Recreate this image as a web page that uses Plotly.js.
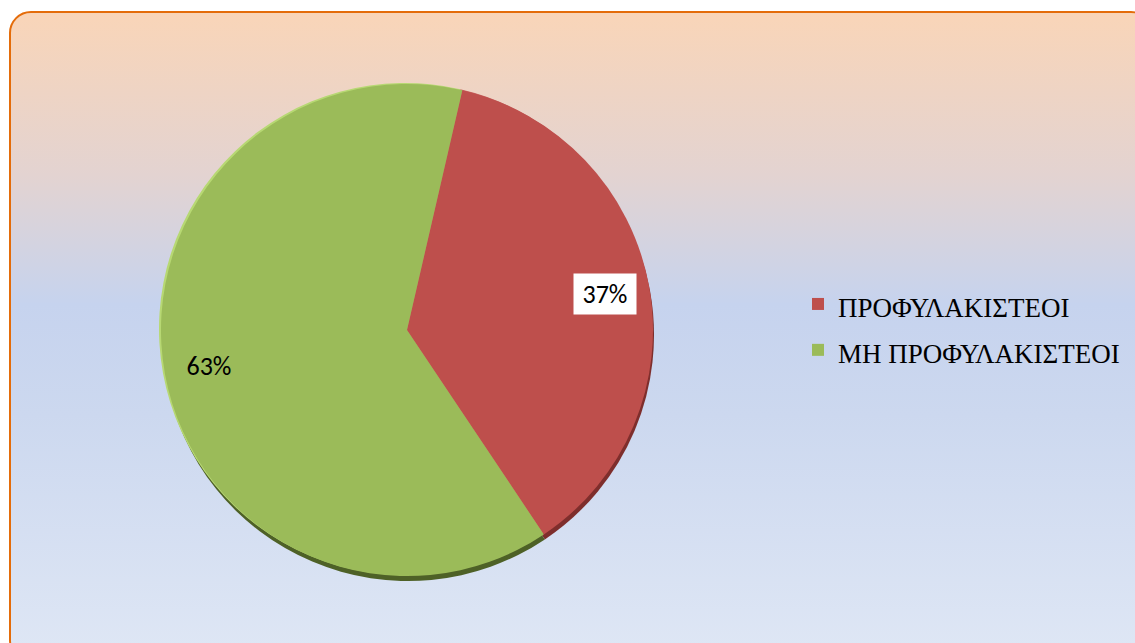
<!DOCTYPE html>
<html>
<head>
<meta charset="utf-8">
<script src="https://cdn.plot.ly/plotly-3.0.1.min.js"></script>
<style>
  html, body { margin: 0; padding: 0; background: #ffffff; overflow: hidden; }
  #frame {
    position: absolute; left: 9px; top: 11px; width: 1140px; height: 648px;
    border: 2.5px solid #E46C0A; border-radius: 22px;
    background: linear-gradient(to bottom, #F9D5B8 0%, #E3D3D1 25%, #C6D3EE 45%, #CCD8EF 62%, #DFE7F5 100%);
  }
  #chart { position: absolute; left: 0; top: 0; width: 1135px; height: 643px; }
</style>
</head>
<body>
<div id="frame"></div>
<div id="chart"></div>
<script>
// ---- data ----
const categories = ["ΠΡΟΦΥΛΑΚΙΣΤΕΟΙ", "ΜΗ ΠΡΟΦΥΛΑΚΙΣΤΕΟΙ"];
const values = [37, 63];
const percentLabels = ["37%", "63%"];

// ---- styling / layout constants ----
const W = 1135, H = 643;
const cx = 407, cy = 330, R = 246;
const rotation = 13;
const sliceColors = ["#BE4F4C", "#9BBB59"];
const shadeColors = ["#7E2E2C", "#4E6127"];
const lightColors = ["#C86562", "#B7D873"];

function domainAt(dx, dy) {
  return {
    x: [(cx - R + dx) / W, (cx + R + dx) / W],
    y: [(H - cy - R - dy) / H, (H - cy + R - dy) / H]
  };
}

const legendLabels = categories.map(c => '<span style="font-size:27px">' + c + '</span>');

function pieTrace(colors, dom, legend) {
  return {
    type: 'pie', values: values, labels: legendLabels, sort: false, direction: 'clockwise',
    rotation: rotation, domain: dom, textinfo: 'none',
    hoverinfo: legend ? 'label+percent' : 'skip',
    marker: { colors: colors, line: { width: 0 } }, showlegend: legend
  };
}

const shadow = pieTrace(shadeColors, domainAt(1, 5), false);
const light = pieTrace(lightColors, domainAt(-2, -1), false);
const main = pieTrace(sliceColors, domainAt(0, 0), true);

// percentage labels positioned from the data (mid-angle of each slice)
const total = values.reduce((a, b) => a + b, 0);
let cum = 0;
const annotations = values.map((v, i) => {
  const mid = (rotation + (cum + v / 2) / total * 360) * Math.PI / 180;
  cum += v;
  const f = 0.82;
  const px = cx + f * R * Math.sin(mid);
  const py = cy - f * R * Math.cos(mid);
  return {
    xref: 'paper', yref: 'paper', x: px / W, y: 1 - py / H,
    xanchor: 'center', yanchor: 'middle',
    text: percentLabels[i], showarrow: false,
    width: 58, height: 36,
    font: { family: 'Carlito, Lato, "Open Sans", sans-serif', size: 26, color: '#000000' },
    bgcolor: i === 0 ? '#FFFFFF' : 'rgba(0,0,0,0)', borderpad: 2
  };
});

const layout = {
  width: W, height: H,
  margin: { l: 0, r: 0, t: 0, b: 0 },
  paper_bgcolor: 'rgba(0,0,0,0)', plot_bgcolor: 'rgba(0,0,0,0)',
  showlegend: true,
  legend: {
    x: 798 / W, xanchor: 'left', y: 1 - 327 / H, yanchor: 'middle',
    font: { family: '"Liberation Serif", "Times New Roman", serif', size: 33, color: '#000000' },
    bgcolor: 'rgba(0,0,0,0)', traceorder: 'normal'
  },
  annotations: annotations
};

Plotly.newPlot('chart', [shadow, light, main], layout, { displayModeBar: false, staticPlot: true });
</script>
</body>
</html>
